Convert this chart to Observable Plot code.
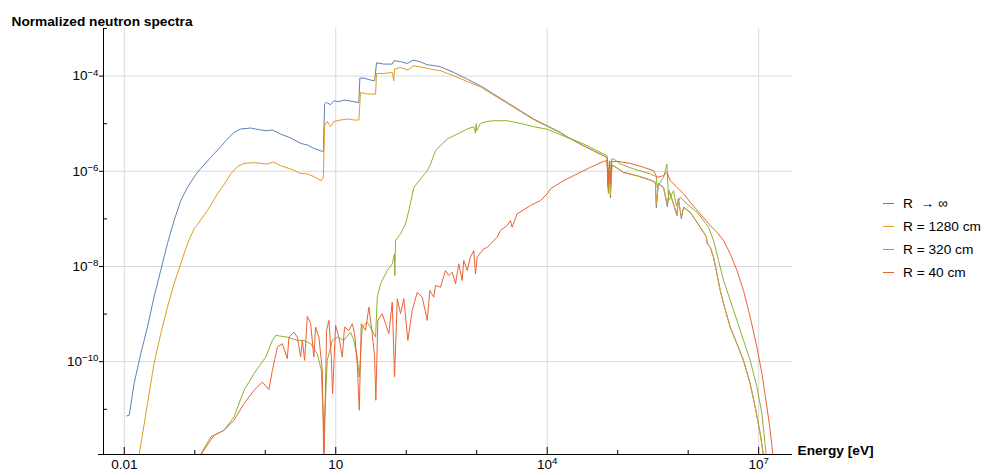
<!DOCTYPE html>
<html><head><meta charset="utf-8">
<script src="https://cdn.jsdelivr.net/npm/d3@7"></script>
<script src="https://cdn.jsdelivr.net/npm/@observablehq/plot@0.6"></script>
<style>
body{margin:0;background:#fff;font-family:"Liberation Sans",Arial,sans-serif;}
#wrap{position:relative;width:985px;height:475px;}
#legend{position:absolute;left:883px;top:192px;font-size:13.7px;color:#000;}
.row{display:flex;align-items:center;height:23px;white-space:pre;}
.sw{width:11px;height:0;border-top:1.4px solid;margin-right:9px;}
</style></head><body><div id="wrap"><div id="legend"></div></div>
<script>
// Series values, as [log10(Energy/eV), log10(normalized spectrum)]
const seriesNames = ["R  \u2192 \u221E", "R = 1280 cm", "R = 320 cm", "R = 40 cm"];
const seriesColors = ["#5E81B5", "#E19C24", "#8FB131", "#EB6235"];

const specInf = [[-1.965,-11.14],[-1.93,-11.125],[-1.861,-10.46],[-1.766,-9.83],[-1.671,-9.27],[-1.578,-8.64],[-1.483,-8.08],[-1.388,-7.52],[-1.294,-7.035],[-1.199,-6.616],[-1.104,-6.337],[-0.987,-6.07],[-0.916,-5.945],[-0.774,-5.708],[-0.632,-5.483],[-0.537,-5.322],[-0.444,-5.183],[-0.349,-5.112],[-0.207,-5.091],[-0.065,-5.133],[0.03,-5.147],[0.10,-5.133],[0.219,-5.217],[0.361,-5.30],[0.502,-5.414],[0.597,-5.447],[0.69,-5.519],[0.809,-5.582],[0.824,-5.582],[0.842,-4.587],[0.87,-4.554],[0.927,-4.602],[0.974,-4.518],[1.045,-4.539],[1.116,-4.503],[1.186,-4.518],[1.257,-4.539],[1.328,-4.554],[1.342,-4.042],[1.399,-4.042],[1.494,-4.084],[1.551,-4.099],[1.579,-3.721],[1.683,-3.748],[1.802,-3.748],[1.824,-3.679],[1.919,-3.694],[2.014,-3.736],[2.099,-3.664],[2.203,-3.70],[2.298,-3.763],[2.391,-3.778],[2.486,-3.805],[2.675,-3.924],[2.865,-4.063],[3.053,-4.203],[3.242,-4.378],[3.432,-4.554],[3.621,-4.728],[3.809,-4.902],[3.999,-5.043],[4.188,-5.183],[4.282,-5.273],[4.517,-5.462],[4.849,-5.708],[4.868,-6.406],[4.882,-5.88],[4.897,-6.553],[4.917,-5.88],[4.943,-5.882],[5.084,-6.022],[5.274,-6.091],[5.463,-6.182],[5.534,-6.232],[5.548,-6.764],[5.576,-6.26],[5.651,-6.337],[5.704,-6.742],[5.732,-6.405],[5.746,-6.475],[5.841,-6.93],[5.86,-6.574],[5.903,-6.994],[5.935,-6.757],[6.03,-6.861],[6.125,-7.071],[6.218,-7.281],[6.257,-7.371],[6.271,-7.518],[6.313,-7.596],[6.36,-7.805],[6.408,-8.154],[6.455,-8.504],[6.502,-8.783],[6.597,-9.274],[6.692,-9.622],[6.785,-9.972],[6.88,-10.461],[6.951,-10.952],[7.022,-11.51],[7.068,-11.966],[7.106,-12.4]];

const spec1280 = [[-1.823,-12.38],[-1.79,-11.965],[-1.671,-10.881],[-1.578,-10.042],[-1.483,-9.412],[-1.388,-8.854],[-1.294,-8.363],[-1.199,-7.944],[-1.104,-7.524],[-1.011,-7.21],[-0.962,-7.119],[-0.821,-6.826],[-0.679,-6.475],[-0.585,-6.28],[-0.491,-6.056],[-0.396,-5.903],[-0.302,-5.833],[-0.16,-5.819],[0.03,-5.846],[0.115,-5.804],[0.218,-5.882],[0.361,-5.951],[0.502,-6.043],[0.597,-6.056],[0.69,-6.112],[0.795,-6.196],[0.824,-6.127],[0.842,-5.043],[0.88,-4.952],[0.927,-5.064],[0.974,-4.952],[1.069,-4.923],[1.164,-4.902],[1.257,-4.923],[1.328,-4.923],[1.352,-4.344],[1.447,-4.378],[1.565,-4.378],[1.579,-3.945],[1.683,-3.945],[1.802,-3.924],[1.824,-4.099],[1.834,-3.853],[1.919,-3.82],[2.023,-3.874],[2.099,-3.784],[2.203,-3.805],[2.345,-3.853],[2.486,-3.889],[2.675,-3.994],[2.865,-4.113],[3.053,-4.224],[3.242,-4.399],[3.432,-4.571],[3.621,-4.745],[3.809,-4.917],[3.999,-5.055],[4.188,-5.194],[4.282,-5.28],[4.517,-5.471],[4.849,-5.714],[4.866,-6.35],[4.882,-5.885],[4.897,-6.5],[4.917,-5.886],[4.943,-5.888],[5.084,-6.028],[5.274,-6.097],[5.463,-6.188],[5.534,-6.238],[5.548,-6.70],[5.576,-6.266],[5.651,-6.343],[5.704,-6.70],[5.732,-6.41],[5.746,-6.48],[5.841,-6.90],[5.86,-6.58],[5.903,-6.96],[5.935,-6.76],[6.03,-6.866],[6.125,-7.076],[6.218,-7.286],[6.257,-7.376],[6.271,-7.52],[6.313,-7.60],[6.36,-7.81],[6.408,-8.16],[6.455,-8.51],[6.502,-8.79],[6.597,-9.28],[6.692,-9.63],[6.785,-9.98],[6.88,-10.47],[6.951,-10.96],[7.022,-11.52],[7.068,-11.975],[7.106,-12.4]];

const spec320 = [[-0.972,-12.38],[-0.916,-11.944],[-0.774,-11.581],[-0.585,-11.441],[-0.444,-11.162],[-0.302,-10.602],[-0.16,-10.251],[0.006,-9.903],[0.101,-9.553],[0.147,-9.448],[0.313,-9.484],[0.455,-9.553],[0.549,-9.553],[0.644,-9.622],[0.738,-9.832],[0.795,-10.182],[0.832,-11.504],[0.88,-9.972],[0.951,-9.553],[1.022,-9.484],[1.116,-9.553],[1.21,-9.379],[1.257,-9.553],[1.305,-9.903],[1.334,-10.323],[1.376,-9.274],[1.447,-9.169],[1.518,-9.343],[1.565,-9.484],[1.589,-8.644],[1.636,-8.363],[1.731,-8.084],[1.802,-7.944],[1.834,-7.734],[1.838,-8.189],[1.848,-7.455],[1.919,-7.314],[1.99,-7.105],[2.037,-6.826],[2.108,-6.337],[2.203,-6.161],[2.298,-5.987],[2.345,-5.846],[2.415,-5.567],[2.486,-5.462],[2.581,-5.322],[2.675,-5.252],[2.77,-5.183],[2.865,-5.112],[2.958,-5.064],[2.982,-5.2],[2.992,-5.0],[3.0,-5.15],[3.053,-4.994],[3.148,-4.952],[3.242,-4.938],[3.432,-4.938],[3.621,-4.994],[3.809,-5.064],[3.999,-5.116],[4.282,-5.288],[4.517,-5.426],[4.849,-5.672],[4.868,-6.469],[4.889,-5.777],[4.90,-6.2],[4.915,-5.74],[4.943,-5.741],[5.038,-5.846],[5.226,-5.951],[5.463,-6.056],[5.548,-6.112],[5.558,-6.337],[5.651,-6.127],[5.699,-5.846],[5.722,-6.616],[5.793,-6.406],[5.831,-6.721],[5.888,-6.547],[5.983,-6.685],[6.125,-6.861],[6.218,-7.035],[6.289,-7.176],[6.36,-7.455],[6.431,-7.875],[6.502,-8.294],[6.597,-8.714],[6.692,-9.134],[6.785,-9.553],[6.88,-9.972],[6.975,-10.532],[7.046,-11.09],[7.107,-11.966],[7.135,-12.38]];

const spec40 = [[-0.93,-12.1],[-0.892,-11.902],[-0.727,-11.546],[-0.585,-11.441],[-0.444,-11.231],[-0.302,-10.881],[-0.16,-10.602],[-0.041,-10.428],[0.052,-10.587],[0.101,-10.182],[0.172,-9.693],[0.242,-9.622],[0.313,-9.937],[0.336,-9.484],[0.407,-9.379],[0.455,-9.484],[0.502,-9.903],[0.526,-9.553],[0.558,-9.972],[0.597,-9.049],[0.644,-9.202],[0.69,-9.903],[0.714,-9.274],[0.761,-9.484],[0.809,-10.182],[0.832,-12.28],[0.87,-9.343],[0.903,-9.133],[0.937,-9.903],[0.955,-10.671],[0.998,-9.238],[1.045,-9.484],[1.093,-9.903],[1.125,-9.274],[1.186,-9.343],[1.235,-9.203],[1.267,-9.412],[1.305,-10.042],[1.334,-11.021],[1.362,-9.203],[1.423,-9.343],[1.47,-8.854],[1.518,-9.412],[1.551,-9.903],[1.569,-10.811],[1.597,-9.133],[1.66,-8.993],[1.707,-9.203],[1.753,-9.412],[1.802,-8.749],[1.834,-10.323],[1.873,-8.678],[1.919,-8.993],[1.966,-8.678],[2.023,-9.553],[2.085,-8.924],[2.156,-8.54],[2.227,-8.644],[2.298,-9.133],[2.334,-8.504],[2.391,-8.644],[2.415,-8.399],[2.486,-8.435],[2.557,-8.084],[2.604,-8.189],[2.652,-8.12],[2.699,-8.363],[2.746,-7.944],[2.794,-8.294],[2.816,-7.875],[2.865,-8.084],[2.911,-7.805],[2.958,-7.665],[2.982,-8.154],[3.006,-7.805],[3.1,-7.629],[3.148,-7.6],[3.195,-7.524],[3.29,-7.386],[3.337,-7.245],[3.43,-7.14],[3.478,-7.035],[3.502,-7.175],[3.573,-6.895],[3.762,-6.72],[3.903,-6.616],[3.999,-6.475],[4.045,-6.37],[4.234,-6.196],[4.423,-6.056],[4.612,-5.917],[4.801,-5.791],[4.849,-5.777],[4.861,-6.301],[4.882,-5.787],[4.897,-6.259],[4.917,-5.798],[4.991,-5.791],[5.179,-5.833],[5.368,-5.917],[5.51,-5.987],[5.558,-6.127],[5.651,-6.091],[5.699,-6.022],[5.746,-6.196],[5.841,-6.337],[5.935,-6.475],[6.03,-6.652],[6.172,-6.895],[6.313,-7.14],[6.408,-7.281],[6.502,-7.455],[6.597,-7.734],[6.692,-8.084],[6.785,-8.504],[6.88,-9.064],[6.975,-9.693],[7.046,-10.251],[7.117,-10.952],[7.164,-11.441],[7.202,-11.966],[7.22,-12.38]];

const seriesData = [specInf, spec1280, spec320, spec40];

// Tick exponents
const xTickExp = [-2,-1,0,1,2,3,4,5,6,7];
const xLabelExp = [-2,1,4,7];
const yTickExp = [-11,-10,-9,-8,-7,-6,-5,-4,-3];
const yLabelExp = [-10,-8,-6,-4];

// Layout
const W = 985, H = 475, mL = 103, mR = 193, mT = 28, mB = 21;
const plotW = W - mL - mR, plotH = H - mT - mB;
const xDom = [10 ** -2.295, 10 ** 7.48];
const yDom = [10 ** -11.95, 10 ** -3];
const FONT = '"Liberation Sans", Arial, Helvetica, sans-serif';

const rows = seriesNames.flatMap((name, i) =>
  seriesData[i].map(([lx, ly]) => ({E: 10 ** lx, phi: 10 ** ly, series: name})));

const fmtX = v => { const e = Math.round(Math.log10(v)); return e === -2 ? "0.01" : e === 1 ? "10" : "10^" + e; };
const fmtY = v => { const e = Math.round(Math.log10(v)); return "10^" + (e < 0 ? "\u2212" + (-e) : e); };

const xMinor = xTickExp.filter(e => !xLabelExp.includes(e)).map(e => 10 ** e);
const xMajor = xLabelExp.map(e => 10 ** e);
const yMinor = yTickExp.filter(e => !yLabelExp.includes(e)).map(e => 10 ** e);
const yMajor = yLabelExp.map(e => 10 ** e);

const chart = Plot.plot({
  width: W, height: H,
  marginLeft: mL, marginRight: mR, marginTop: mT, marginBottom: mB,
  style: {fontFamily: FONT, fontSize: "13.5px", background: "#fff", color: "#000", overflow: "visible"},
  x: {type: "log", domain: xDom, axis: null},
  y: {type: "log", domain: yDom, axis: null},
  color: {domain: seriesNames, range: seriesColors},
  marks: [
    Plot.ruleX(xMajor, {stroke: "#d9d9d9", strokeWidth: 1}),
    Plot.ruleY(yMajor, {stroke: "#d9d9d9", strokeWidth: 1}),
    Plot.line(rows, {x: "E", y: "phi", stroke: "series", z: "series", strokeWidth: 1, clip: true}),
    Plot.ruleX([xDom[0]], {stroke: "#000", strokeWidth: 1}),
    Plot.ruleY([yDom[0]], {stroke: "#000", strokeWidth: 1, insetLeft: -5}),
    Plot.tickX(xMinor, {x: d => d, insetTop: plotH - 4, stroke: "#000"}),
    Plot.tickX(xMajor, {x: d => d, insetTop: plotH - 7, stroke: "#000"}),
    Plot.tickY(yMinor, {y: d => d, insetRight: plotW - 4, stroke: "#000"}),
    Plot.axisX(xMajor, {tickSize: 0, tickPadding: 5, tickFormat: fmtX, fontSize: 13.5, label: null}),
    Plot.axisY(yMajor, {tickSize: 4, tickPadding: 1, tickFormat: fmtY, fontSize: 13.5, label: null}),
    Plot.text(["Energy [eV]"], {text: d => d, frameAnchor: "bottom-right", dx: 5, textAnchor: "start", fontWeight: "bold", fontSize: 13.7}),
    Plot.text(["Normalized neutron spectra"], {text: d => d, frameAnchor: "top-left", dx: -92, dy: -12.5, textAnchor: "start", fontWeight: "bold", fontSize: 13.7})
  ]
});

// superscript exponents in tick labels
d3.select(chart).selectAll("text").each(function () {
  const t = this.textContent;
  const m = t.match(/^(.*)\^(.*)$/);
  if (m) {
    const s = d3.select(this);
    s.text(null);
    s.append("tspan").text(m[1]);
    s.append("tspan").attr("dy", "-0.5em").attr("font-size", "0.72em").text(m[2]);
  }
});

document.getElementById("wrap").prepend(chart);

const legend = d3.select("#legend");
seriesNames.forEach((name, i) => {
  const r = legend.append("div").attr("class", "row");
  r.append("div").attr("class", "sw").style("border-top-color", seriesColors[i]);
  r.append("span").text(name);
});
</script>
</body></html>
